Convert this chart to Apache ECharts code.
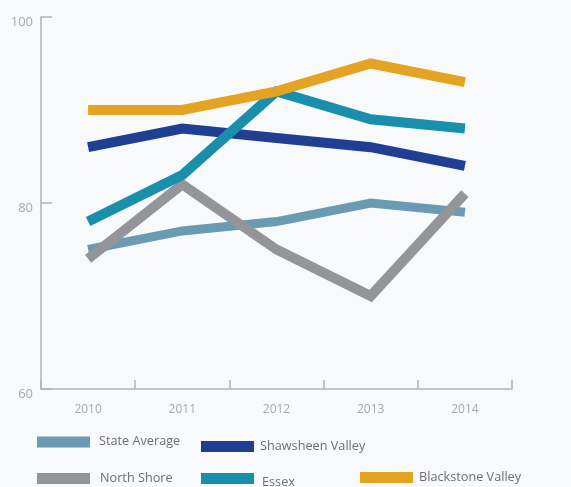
<!DOCTYPE html>
<html>
<head>
<meta charset="utf-8">
<script src="https://cdn.jsdelivr.net/npm/echarts@6/dist/echarts.min.js"></script>
<style>
html,body{margin:0;padding:0;background:#f8f9fb;}
#chart{width:571px;height:487px;}
</style>
</head>
<body>
<div id="chart"></div>
<script>
const categories = ['2010', '2011', '2012', '2013', '2014'];
const stateAverage = [75, 77, 78, 80, 79];
const northShore = [74, 82, 75, 70, 81];
const shawsheenValley = [86, 88, 87, 86, 84];
const essex = [78, 83, 92, 89, 88];
const blackstoneValley = [90, 90, 92, 95, 93];
const yTicks = [60, 80, 100];

const seriesDefs = [
  {name: 'State Average', data: stateAverage, color: '#6a9bb3', width: 9},
  {name: 'North Shore', data: northShore, color: '#939598', width: 10},
  {name: 'Shawsheen Valley', data: shawsheenValley, color: '#213f92', width: 10},
  {name: 'Essex', data: essex, color: '#1a8fab', width: 10},
  {name: 'Blackstone Valley', data: blackstoneValley, color: '#e5a324', width: 10}
];

const legendPos = {
  'State Average': {left: 37, top: 435, pad: 4, dy: -1},
  'Shawsheen Valley': {left: 201, top: 440, pad: 1, dy: 0},
  'North Shore': {left: 37, top: 472, pad: 5, dy: 0},
  'Essex': {left: 201, top: 473, pad: 3, dy: 8},
  'Blackstone Valley': {left: 360, top: 471, pad: 1, dy: 0}
};

const chart = echarts.init(document.getElementById('chart'), null, {renderer: 'canvas'});
const axisColor = '#b0b2b5';
const labelColor = '#a7a9ac';
const font = '"Open Sans", "Noto Sans", sans-serif';

const option = {
  backgroundColor: '#f8f9fb',
  animation: false,
  grid: {left: 41, top: 17, right: 59, bottom: 98, containLabel: false},
  legend: seriesDefs.map(s => {
    const p = legendPos[s.name];
    return {
      data: [s.name],
      left: p.left,
      top: p.top,
      padding: 0,
      itemWidth: 53,
      itemHeight: 11,
      icon: 'rect',
      selectedMode: false,
      formatter: '{t|{name}}',
      textStyle: {
        color: '#6d6e71', fontSize: 13, fontFamily: font,
        rich: {t: {color: '#6d6e71', fontSize: 12.7, fontFamily: font,
          padding: [p.dy > 0 ? p.dy : 0, 0, p.dy < 0 ? -p.dy : 0, p.pad]}}
      }
    };
  }),
  xAxis: {
    type: 'category',
    data: categories,
    boundaryGap: true,
    axisLine: {lineStyle: {color: axisColor, width: 1.5}},
    axisTick: {show: true, inside: true, length: 9, lineStyle: {color: axisColor, width: 1.5}},
    axisLabel: {color: labelColor, fontSize: 12, fontFamily: font, margin: 15},
    splitLine: {show: false}
  },
  yAxis: {
    type: 'value',
    min: yTicks[0],
    max: yTicks[yTicks.length - 1],
    interval: 20,
    axisLine: {show: true, lineStyle: {color: axisColor, width: 1.5}},
    axisTick: {show: true, inside: true, length: 11, lineStyle: {color: axisColor, width: 1.5}},
    axisLabel: {color: labelColor, fontSize: 13, fontFamily: font, margin: 8, verticalAlign: 'top', lineHeight: 11},
    splitLine: {show: false}
  },
  series: seriesDefs.map(s => ({
    name: s.name,
    type: 'line',
    data: s.data,
    symbol: 'none',
    showSymbol: false,
    color: s.color,
    lineStyle: {color: s.color, width: s.width, join: 'miter', cap: 'butt'},
    emphasis: {disabled: true}
  }))
};
chart.setOption(option);
</script>
</body>
</html>
